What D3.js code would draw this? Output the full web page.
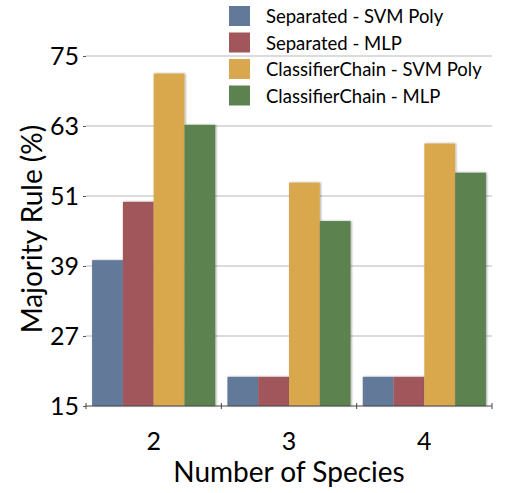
<!DOCTYPE html>
<html><head><meta charset="utf-8">
<script src="https://cdn.jsdelivr.net/npm/d3@7"></script>
<style>body{margin:0;background:#fff}svg{display:block}text{font-family:Lato,"Open Sans",sans-serif;fill:#000}</style>
</head><body>
<svg id="c" width="512" height="493"></svg>
<script>
const categories = ["2","3","4"];
const seriesNames = ["Separated - SVM Poly","Separated - MLP","ClassifierChain - SVM Poly","ClassifierChain - MLP"];
const sepSVM = [40, 20, 20];
const sepMLP = [50, 20, 20];
const ccSVM = [72, 53.3, 60];
const ccMLP = [63.2, 46.7, 55];
const yTicks = [15, 27, 39, 51, 63, 75];
const colors = ["#62799a","#a1565b","#d9a84e","#5c8250"];
const series = [sepSVM, sepMLP, ccSVM, ccMLP];

(function(){
const svg = d3.select("#c");
const pLeft = 86, pRight = 492, pTop = 56, pBottom = 406;
const x = d3.scaleBand().domain(categories).range([pLeft, pRight]).paddingInner(0.09).paddingOuter(0.045);
const x1 = d3.scaleBand().domain(d3.range(4)).range([0, x.bandwidth()]);
const y = d3.scaleLinear().domain([15, 75]).range([pBottom, pTop]);

// grid
svg.append("g").selectAll("line").data(yTicks.slice(1)).join("line")
  .attr("x1", pLeft).attr("x2", pRight).attr("y1", d => y(d)).attr("y2", d => y(d))
  .attr("stroke", "#b8b8b8").attr("stroke-width", 1.2);

const defs = svg.append("defs");
const f = defs.append("filter").attr("id","sh").attr("x","-20%").attr("y","-20%").attr("width","140%").attr("height","140%");
f.append("feDropShadow").attr("dx",1).attr("dy",0).attr("stdDeviation",1.2).attr("flood-color","#000").attr("flood-opacity",0.35);

// bars
const g = svg.append("g");
categories.forEach((c, ci) => {
  series.forEach((s, si) => {
    g.append("rect")
      .attr("x", x(c) + x1(si)).attr("width", x1.bandwidth())
      .attr("y", y(s[ci])).attr("height", y(15) - y(s[ci]))
      .attr("fill", colors[si]).attr("filter","url(#sh)");
  });
});

// y axis labels
const yAxis = d3.axisLeft(y).tickValues(yTicks).tickSize(3).tickPadding(4);
const ya = svg.append("g").attr("transform", `translate(${pLeft},0)`).call(yAxis);
ya.select(".domain").remove();
ya.selectAll("line").attr("stroke","#555");
ya.selectAll("text").style("font-size","25px").style("font-family","Lato, sans-serif").attr("fill","#000");

// x axis
const xa = svg.append("g").attr("transform", `translate(0,${pBottom})`);
xa.append("line").attr("x1", pLeft).attr("x2", pRight).attr("stroke","#444").attr("stroke-width",1);
const bounds = [pLeft].concat(categories.map(c => x(c) + x.bandwidth() + x.step()*x.paddingInner()/2));
bounds[bounds.length-1] = pRight;
xa.selectAll("line.t").data(bounds).join("line").attr("class","t")
  .attr("x1", d => d).attr("x2", d => d).attr("y1", -3).attr("y2", 3).attr("stroke","#444");
xa.selectAll("text").data(categories).join("text")
  .attr("x", d => x(d) + x.bandwidth()/2).attr("y", 44)
  .attr("text-anchor","middle").style("font-size","25px").text(d => d);

// axis titles
svg.append("text").attr("x", 289).attr("y", 482).attr("text-anchor","middle")
  .style("font-size","28px").text("Number of Species");
svg.append("text").attr("transform","translate(42,229) rotate(-90)").attr("text-anchor","middle")
  .style("font-size","28px").text("Majority Rule (%)");

// legend
const lg = svg.append("g").attr("transform","translate(229,6)");
seriesNames.forEach((n, i) => {
  lg.append("rect").attr("x",0).attr("y", i*26.5).attr("width",21).attr("height",20).attr("fill", colors[i]);
  lg.append("text").attr("x",37).attr("y", i*26.5 + 17).style("font-size","18.5px").text(n);
});
})();
</script>
</body></html>
